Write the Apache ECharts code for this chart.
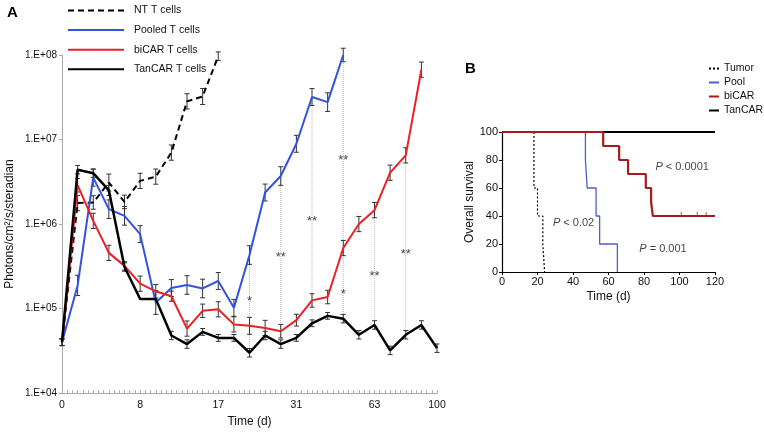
<!DOCTYPE html>
<html>
<head>
<meta charset="utf-8">
<style>html,body{margin:0;background:#fff}#container{width:764px;height:433px}</style>
</head>
<body>
<div id="container"></div>
<script src="https://cdn.jsdelivr.net/npm/echarts@6/dist/echarts.min.js"></script>
<script>
// ---- panel A: photon flux per imaging session (log scale) ----
var sessionTicks = ['0', '', '', '', '', '8', '', '', '', '', '17', '', '', '', '', '31', '', '', '', '', '63', '', '', '', '100'];
var ntCells     = [4.0e4, 1.77e6, 1.8e6, 3.1e6, 1.83e6, 3.24e6, 3.64e6, 7.0e6, 2.83e7, 3.23e7, 9.7e7];
var pooledCells = [4.0e4, 1.88e5, 3.54e6, 1.5e6, 1.25e6, 7.6e5, 1.18e5, 1.75e5, 1.9e5, 1.73e5, 2.12e5, 1.02e5, 4.3e5,
                   2.36e6, 3.7e6, 8.9e6, 3.18e7, 2.77e7, 1.0e8];
var bicarCells  = [4.0e4, 2.88e6, 1.09e6, 4.56e5, 3.2e5, 1.97e5, 1.6e5, 1.4e5, 5.8e4, 9.4e4, 9.8e4, 6.5e4, 6.25e4,
                   5.9e4, 5.4e4, 7.3e4, 1.25e5, 1.37e5, 5.2e5, 1.0e6, 1.46e6, 4.05e6, 6.5e6, 6.7e7];
var tancarCells = [4.0e4, 4.4e6, 4.0e6, 2.5e6, 3.1e5, 1.3e5, 1.3e5, 4.8e4, 3.8e4, 5.3e4, 4.5e4, 4.5e4, 3.0e4,
                   4.8e4, 3.8e4, 4.5e4, 6.7e4, 8.2e4, 7.6e4, 4.9e4, 6.4e4, 3.2e4, 4.9e4, 6.4e4, 3.4e4];
// error bar half heights, in log10 units
var ntErr     = [0.04, 0.09, 0.08, 0.1, 0.08, 0.09, 0.09, 0.09, 0.09, 0.095, 0.05];
var pooledErr = [0.04, 0.12, 0.1, 0.11, 0.11, 0.1, 0.14, 0.1, 0.11, 0.11, 0.1, 0.1, 0.11, 0.1, 0.11, 0.1, 0.1, 0.11, 0.08];
var bicarErr  = [0.04, 0.08, 0.09, 0.09, 0.05, 0.09, 0.08, 0.06, 0.09, 0.08, 0.09, 0.09, 0.1, 0.09, 0.08, 0.07,
                 0.08, 0.08, 0.09, 0.09, 0.09, 0.09, 0.09, 0.09];
var tancarErr = [0.04, 0.05, 0.05, 0.06, 0.05, 0, 0, 0.05, 0.05, 0.04, 0.04, 0.04, 0.05, 0.05, 0.05, 0.04,
                 0.04, 0.04, 0.05, 0.05, 0.05, 0.05, 0.05, 0.05, 0.05];
// significance marks
var sigLineIdx = [12, 14, 16, 18, 20, 22];
var starIdx  = [12, 14, 16, 18, 18, 20, 22];
var starY    = [1.31e5, 4.4e5, 1.17e6, 6.1e6, 1.58e5, 2.6e5, 4.8e5];
var starText = ['*', '**', '**', '**', '*', '**', '**'];

// ---- panel B: survival ----
var tumorDays  = [0, 18, 20, 23, 24];
var tumorSurv  = [100, 60, 40, 20, 0];
var poolDays   = [0, 47, 48, 53, 55, 65];
var poolSurv   = [100, 80, 60, 40, 20, 0];
var bicarDays  = [0, 57, 66, 71, 81, 84, 85, 120];
var bicarSurv  = [100, 90, 80, 70, 60, 50, 40, 40];
var tancarDays = [0, 120];
var tancarSurv = [100, 100];
var bicarCensor = [101, 110, 115];
var pNotes = ['P < 0.0001', 'P < 0.02', 'P = 0.001'];
var pNoteX = [101.5, 40.3, 90.7];
var pNoteY = [75, 35, 16.6];

var FONT = 'Liberation Sans, Arial, Helvetica, sans-serif';
var BLUE = '#3452e0', RED = '#ec1f24';

function pairs(arr) { return arr.map(function (v, i) { return [i, v]; }); }
function zip(xs, ys) { return xs.map(function (x, i) { return [x, ys[i]]; }); }

var errData = [];
[[ntCells, ntErr], [pooledCells, pooledErr], [bicarCells, bicarErr], [tancarCells, tancarErr]].forEach(function (s) {
  s[0].forEach(function (v, i) { if (s[1][i]) errData.push([i, v, s[1][i]]); });
});

var guideData = sigLineIdx.map(function (i) {
  var top = Math.max(pooledCells[i] || 0, bicarCells[i] || 0);
  return [i, top, tancarCells[i]];
});

function renderErr(params, api) {
  var i = api.value(0), v = api.value(1), e = api.value(2);
  var f = Math.pow(10, e);
  var hi = api.coord([i, v * f]);
  var lo = api.coord([i, v / f]);
  var w = 2.5;
  var st = { stroke: '#333', lineWidth: 1 };
  return {
    type: 'group',
    children: [
      { type: 'line', shape: { x1: hi[0], y1: hi[1], x2: lo[0], y2: lo[1] }, style: st },
      { type: 'line', shape: { x1: hi[0] - w, y1: hi[1], x2: hi[0] + w, y2: hi[1] }, style: st },
      { type: 'line', shape: { x1: lo[0] - w, y1: lo[1], x2: lo[0] + w, y2: lo[1] }, style: st }
    ]
  };
}

function renderGuide(params, api) {
  var a = api.coord([api.value(0), api.value(1)]);
  var b = api.coord([api.value(0), api.value(2)]);
  return {
    type: 'line',
    shape: { x1: a[0], y1: a[1], x2: b[0], y2: b[1] },
    style: { stroke: '#aaa', lineWidth: 0.8, lineDash: [1, 1] }
  };
}

var chart = echarts.init(document.getElementById('container'));

var option = {
  backgroundColor: '#fff',
  textStyle: { fontFamily: FONT, color: '#111' },
  animation: false,
  title: [
    { text: 'A', left: 2, top: 0, textStyle: { fontSize: 15, fontWeight: 'bold', fontFamily: FONT, color: '#000' } },
    { text: 'B', left: 460, top: 56, textStyle: { fontSize: 15, fontWeight: 'bold', fontFamily: FONT, color: '#000' } }
  ],
  legend: [
    {
      orient: 'vertical', left: 67, top: 5, padding: 0,
      itemWidth: 56, itemHeight: 12, itemGap: 8.6,
      itemStyle: { opacity: 0 },
      textStyle: { fontSize: 10.5, color: '#111', padding: [0, 0, 0, 5] },
      data: ['NT T cells', 'Pooled T cells', 'biCAR T cells', 'TanCAR T cells']
    },
    {
      orient: 'vertical', left: 708, top: 63, padding: 0,
      itemWidth: 10, itemHeight: 10, itemGap: 3,
      itemStyle: { opacity: 0 },
      textStyle: { fontSize: 10.5, color: '#111', lineHeight: 10 },
      data: ['Tumor', 'Pool', 'biCAR', 'TanCAR']
    }
  ],
  grid: [
    { left: 62, top: 55, width: 375, height: 340 },
    { left: 502, top: 132, width: 213, height: 140 }
  ],
  xAxis: [
    {
      type: 'value', gridIndex: 0, min: 0, max: 24, interval: 1,
      name: 'Time (d)', nameLocation: 'middle', nameGap: 20,
      nameTextStyle: { fontSize: 12, color: '#111' },
      axisLine: { lineStyle: { color: '#aaa' } },
      axisTick: { show: true, inside: true, length: 3, lineStyle: { color: '#aaa' } },
      minorTick: { show: true, splitNumber: 3, length: 3, lineStyle: { color: '#aaa' } },
      splitLine: { show: false },
      axisLabel: {
        fontSize: 10.5, color: '#111', margin: 7,
        formatter: function (v) { return sessionTicks[v] || ''; }
      }
    },
    {
      type: 'value', gridIndex: 1, min: 0, max: 120, interval: 20,
      name: 'Time (d)', nameLocation: 'middle', nameGap: 19,
      nameTextStyle: { fontSize: 12, color: '#111' },
      axisLine: { lineStyle: { color: '#000', width: 1.2 } },
      axisTick: { length: 3, lineStyle: { color: '#000' } },
      splitLine: { show: false },
      axisLabel: { fontSize: 11, color: '#111', margin: 4 }
    }
  ],
  yAxis: [
    {
      type: 'log', gridIndex: 0, logBase: 10, min: 1e4, max: 1e8,
      name: 'Photons/cm²/s/steradian', nameLocation: 'middle', nameGap: 46,
      nameTextStyle: { fontSize: 12, color: '#111' },
      axisLine: { show: true, lineStyle: { color: '#aaa' } },
      axisTick: { show: true, length: 3, lineStyle: { color: '#aaa' } },
      splitLine: { show: false },
      axisLabel: {
        fontSize: 10, color: '#111', margin: 5,
        formatter: function (v) { return '1.E+0' + Math.round(Math.log10(v)); }
      }
    },
    {
      type: 'value', gridIndex: 1, min: 0, max: 100, interval: 20,
      name: 'Overall survival', nameLocation: 'middle', nameGap: 26,
      nameTextStyle: { fontSize: 12, color: '#111' },
      axisLine: { show: true, lineStyle: { color: '#000', width: 1.2 } },
      axisTick: { show: true, length: 3, lineStyle: { color: '#000' } },
      splitLine: { show: false },
      axisLabel: { fontSize: 11, color: '#111', margin: 4 }
    }
  ],
  series: [
    // panel A
    {
      name: 'NT T cells', type: 'line', xAxisIndex: 0, yAxisIndex: 0, symbol: 'none',
      data: pairs(ntCells), color: '#000',
      lineStyle: { color: '#000', width: 2, type: [6, 4] }
    },
    {
      name: 'Pooled T cells', type: 'line', xAxisIndex: 0, yAxisIndex: 0, symbol: 'none',
      data: pairs(pooledCells), color: BLUE,
      lineStyle: { color: BLUE, width: 2 }
    },
    {
      name: 'biCAR T cells', type: 'line', xAxisIndex: 0, yAxisIndex: 0, symbol: 'none',
      data: pairs(bicarCells), color: RED,
      lineStyle: { color: RED, width: 2 }
    },
    {
      name: 'TanCAR T cells', type: 'line', xAxisIndex: 0, yAxisIndex: 0, symbol: 'none',
      data: pairs(tancarCells), color: '#000',
      lineStyle: { color: '#000', width: 2.5 }
    },
    {
      type: 'custom', xAxisIndex: 0, yAxisIndex: 0, renderItem: renderGuide,
      data: guideData, encode: { x: 0, y: [1, 2] }, z: 1, silent: true
    },
    {
      type: 'custom', xAxisIndex: 0, yAxisIndex: 0, renderItem: renderErr,
      data: errData, encode: { x: 0, y: 1 }, z: 3, clip: false, silent: true
    },
    {
      type: 'scatter', xAxisIndex: 0, yAxisIndex: 0, symbolSize: 0, silent: true,
      data: starIdx.map(function (i, k) { return [i, starY[k], starText[k]]; }),
      label: {
        show: true, position: 'inside', offset: [0, 3],
        fontSize: 13, color: '#111',
        formatter: function (p) { return p.value[2]; }
      }
    },
    // panel B
    {
      name: 'TanCAR', type: 'line', step: 'end', xAxisIndex: 1, yAxisIndex: 1, symbol: 'none',
      data: zip(tancarDays, tancarSurv), color: '#000',
      lineStyle: { color: '#000', width: 2 }
    },
    {
      name: 'Tumor', type: 'line', step: 'end', xAxisIndex: 1, yAxisIndex: 1, symbol: 'none',
      data: zip(tumorDays, tumorSurv), color: '#000',
      lineStyle: { color: '#000', width: 1.2, type: [2, 2] }
    },
    {
      name: 'Pool', type: 'line', step: 'end', xAxisIndex: 1, yAxisIndex: 1, symbol: 'none',
      data: zip(poolDays, poolSurv), color: '#4a5fd0',
      lineStyle: { color: '#4a5fd0', width: 1.3 }
    },
    {
      name: 'biCAR', type: 'line', step: 'end', xAxisIndex: 1, yAxisIndex: 1, symbol: 'none',
      data: zip(bicarDays, bicarSurv), color: '#a51c1c',
      lineStyle: { color: '#a51c1c', width: 2.2 }
    },
    {
      type: 'scatter', xAxisIndex: 1, yAxisIndex: 1, silent: true,
      symbol: 'rect', symbolSize: [1, 4], symbolOffset: [0, -2],
      itemStyle: { color: '#a51c1c' },
      data: bicarCensor.map(function (d) { return [d, 40]; })
    },
    {
      type: 'scatter', xAxisIndex: 1, yAxisIndex: 1, symbolSize: 0, silent: true,
      data: pNotes.map(function (t, k) { return [pNoteX[k], pNoteY[k], t]; }),
      label: {
        show: true, position: 'inside', fontSize: 11, color: '#111',
        formatter: function (p) { return '{i|P}' + p.value[2].slice(1); },
        rich: { i: { fontStyle: 'italic', fontSize: 11, color: '#111' } }
      }
    }
  ]
};

chart.setOption(option);
window.addEventListener('resize', chart.resize);
</script>
</body>
</html>
